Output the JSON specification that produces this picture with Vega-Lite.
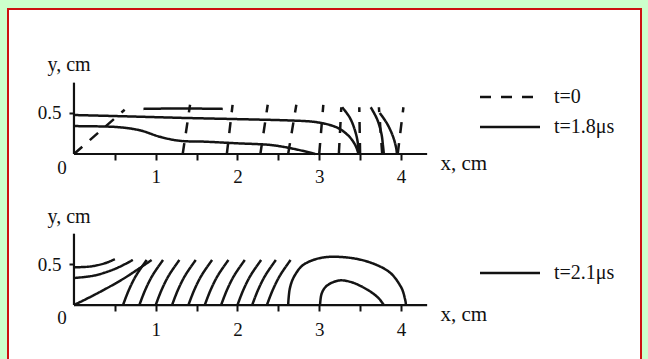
{
  "$schema": "https://vega.github.io/schema/vega-lite/v6.json",
  "width": 648,
  "height": 359,
  "autosize": {"type": "fit", "contains": "padding"},
  "padding": {"left": 8, "top": 9, "right": 7, "bottom": -4},
  "background": "#ccffcc",
  "config": {
    "view": {"fill": "white", "stroke": "#cc1111", "strokeWidth": 2},
    "font": "Liberation Serif"
  },
  "datasets": {
    "top": [
      {"id": "d0", "series": "t=0", "i": 0, "x": 0, "y": 0},
      {"id": "d0", "series": "t=0", "i": 1, "x": 0.62, "y": 0.54},
      {"id": "d1", "series": "t=0", "i": 0, "x": 1.33, "y": 0},
      {"id": "d1", "series": "t=0", "i": 1, "x": 1.42, "y": 0.6},
      {"id": "d2", "series": "t=0", "i": 0, "x": 1.87, "y": 0},
      {"id": "d2", "series": "t=0", "i": 1, "x": 1.94, "y": 0.6},
      {"id": "d3", "series": "t=0", "i": 0, "x": 2.28, "y": 0},
      {"id": "d3", "series": "t=0", "i": 1, "x": 2.37, "y": 0.6},
      {"id": "d4", "series": "t=0", "i": 0, "x": 2.62, "y": 0},
      {"id": "d4", "series": "t=0", "i": 1, "x": 2.72, "y": 0.6},
      {"id": "d5", "series": "t=0", "i": 0, "x": 3.0, "y": 0},
      {"id": "d5", "series": "t=0", "i": 1, "x": 3.05, "y": 0.6},
      {"id": "d6", "series": "t=0", "i": 0, "x": 3.24, "y": 0},
      {"id": "d6", "series": "t=0", "i": 1, "x": 3.27, "y": 0.57},
      {"id": "d7", "series": "t=0", "i": 0, "x": 3.5, "y": 0},
      {"id": "d7", "series": "t=0", "i": 1, "x": 3.49, "y": 0.57},
      {"id": "d8", "series": "t=0", "i": 0, "x": 3.77, "y": 0},
      {"id": "d8", "series": "t=0", "i": 1, "x": 3.73, "y": 0.57},
      {"id": "d9", "series": "t=0", "i": 0, "x": 3.96, "y": 0},
      {"id": "d9", "series": "t=0", "i": 1, "x": 4.03, "y": 0.57},
      {"id": "s1", "series": "t=1.8μs", "i": 0, "x": 0, "y": 0.475},
      {"id": "s1", "series": "t=1.8μs", "i": 1, "x": 0.6, "y": 0.46},
      {"id": "s1", "series": "t=1.8μs", "i": 2, "x": 1.33, "y": 0.44},
      {"id": "s1", "series": "t=1.8μs", "i": 3, "x": 2.0, "y": 0.425},
      {"id": "s1", "series": "t=1.8μs", "i": 4, "x": 2.6, "y": 0.41},
      {"id": "s1", "series": "t=1.8μs", "i": 5, "x": 2.95, "y": 0.39},
      {"id": "s1", "series": "t=1.8μs", "i": 6, "x": 3.2, "y": 0.33},
      {"id": "s1", "series": "t=1.8μs", "i": 7, "x": 3.35, "y": 0.23},
      {"id": "s1", "series": "t=1.8μs", "i": 8, "x": 3.44, "y": 0.11},
      {"id": "s1", "series": "t=1.8μs", "i": 9, "x": 3.48, "y": 0},
      {"id": "s2", "series": "t=1.8μs", "i": 0, "x": 0, "y": 0.34},
      {"id": "s2", "series": "t=1.8μs", "i": 1, "x": 0.5, "y": 0.33},
      {"id": "s2", "series": "t=1.8μs", "i": 2, "x": 0.8, "y": 0.29},
      {"id": "s2", "series": "t=1.8μs", "i": 3, "x": 1.05, "y": 0.21},
      {"id": "s2", "series": "t=1.8μs", "i": 4, "x": 1.3, "y": 0.16},
      {"id": "s2", "series": "t=1.8μs", "i": 5, "x": 1.6, "y": 0.15},
      {"id": "s2", "series": "t=1.8μs", "i": 6, "x": 2.0, "y": 0.13},
      {"id": "s2", "series": "t=1.8μs", "i": 7, "x": 2.4, "y": 0.11},
      {"id": "s2", "series": "t=1.8μs", "i": 8, "x": 2.7, "y": 0.06},
      {"id": "s2", "series": "t=1.8μs", "i": 9, "x": 2.95, "y": 0},
      {"id": "s3", "series": "t=1.8μs", "i": 0, "x": 3.28, "y": 0.57},
      {"id": "s3", "series": "t=1.8μs", "i": 1, "x": 3.37, "y": 0.45},
      {"id": "s3", "series": "t=1.8μs", "i": 2, "x": 3.43, "y": 0.31},
      {"id": "s3", "series": "t=1.8μs", "i": 3, "x": 3.47, "y": 0.15},
      {"id": "s3", "series": "t=1.8μs", "i": 4, "x": 3.48, "y": 0},
      {"id": "s4", "series": "t=1.8μs", "i": 0, "x": 3.63, "y": 0.57},
      {"id": "s4", "series": "t=1.8μs", "i": 1, "x": 3.71, "y": 0.42},
      {"id": "s4", "series": "t=1.8μs", "i": 2, "x": 3.76, "y": 0.25},
      {"id": "s4", "series": "t=1.8μs", "i": 3, "x": 3.78, "y": 0.1},
      {"id": "s4", "series": "t=1.8μs", "i": 4, "x": 3.79, "y": 0},
      {"id": "s5", "series": "t=1.8μs", "i": 0, "x": 3.74, "y": 0.5},
      {"id": "s5", "series": "t=1.8μs", "i": 1, "x": 3.83, "y": 0.37},
      {"id": "s5", "series": "t=1.8μs", "i": 2, "x": 3.9, "y": 0.22},
      {"id": "s5", "series": "t=1.8μs", "i": 3, "x": 3.94, "y": 0.08},
      {"id": "s5", "series": "t=1.8μs", "i": 4, "x": 3.95, "y": 0},
      {"id": "s6", "series": "t=1.8μs", "i": 0, "x": 0.85, "y": 0.55},
      {"id": "s6", "series": "t=1.8μs", "i": 1, "x": 1.3, "y": 0.555},
      {"id": "s6", "series": "t=1.8μs", "i": 2, "x": 1.82, "y": 0.55}
    ],
    "bottom": [
      {"id": "b1", "series": "t=2.1μs", "i": 0, "x": 0, "y": 0.46},
      {"id": "b1", "series": "t=2.1μs", "i": 1, "x": 0.2, "y": 0.47},
      {"id": "b1", "series": "t=2.1μs", "i": 2, "x": 0.38, "y": 0.51},
      {"id": "b1", "series": "t=2.1μs", "i": 3, "x": 0.5, "y": 0.56},
      {"id": "b2", "series": "t=2.1μs", "i": 0, "x": 0, "y": 0.33},
      {"id": "b2", "series": "t=2.1μs", "i": 1, "x": 0.25, "y": 0.36},
      {"id": "b2", "series": "t=2.1μs", "i": 2, "x": 0.5, "y": 0.44},
      {"id": "b2", "series": "t=2.1μs", "i": 3, "x": 0.72, "y": 0.55},
      {"id": "b3", "series": "t=2.1μs", "i": 0, "x": 0, "y": 0},
      {"id": "b3", "series": "t=2.1μs", "i": 1, "x": 0.3, "y": 0.15},
      {"id": "b3", "series": "t=2.1μs", "i": 2, "x": 0.62, "y": 0.33},
      {"id": "b3", "series": "t=2.1μs", "i": 3, "x": 0.95, "y": 0.55},
      {"id": "L01", "series": "t=2.1μs", "i": 0, "x": 0.6, "y": 0},
      {"id": "L01", "series": "t=2.1μs", "i": 1, "x": 0.67, "y": 0.18},
      {"id": "L01", "series": "t=2.1μs", "i": 2, "x": 0.76, "y": 0.36},
      {"id": "L01", "series": "t=2.1μs", "i": 3, "x": 0.89, "y": 0.55},
      {"id": "L02", "series": "t=2.1μs", "i": 0, "x": 0.8, "y": 0},
      {"id": "L02", "series": "t=2.1μs", "i": 1, "x": 0.87, "y": 0.18},
      {"id": "L02", "series": "t=2.1μs", "i": 2, "x": 0.96, "y": 0.36},
      {"id": "L02", "series": "t=2.1μs", "i": 3, "x": 1.09, "y": 0.55},
      {"id": "L03", "series": "t=2.1μs", "i": 0, "x": 1.0, "y": 0},
      {"id": "L03", "series": "t=2.1μs", "i": 1, "x": 1.07, "y": 0.18},
      {"id": "L03", "series": "t=2.1μs", "i": 2, "x": 1.16, "y": 0.36},
      {"id": "L03", "series": "t=2.1μs", "i": 3, "x": 1.29, "y": 0.55},
      {"id": "L04", "series": "t=2.1μs", "i": 0, "x": 1.2, "y": 0},
      {"id": "L04", "series": "t=2.1μs", "i": 1, "x": 1.27, "y": 0.18},
      {"id": "L04", "series": "t=2.1μs", "i": 2, "x": 1.36, "y": 0.36},
      {"id": "L04", "series": "t=2.1μs", "i": 3, "x": 1.49, "y": 0.55},
      {"id": "L05", "series": "t=2.1μs", "i": 0, "x": 1.4, "y": 0},
      {"id": "L05", "series": "t=2.1μs", "i": 1, "x": 1.47, "y": 0.18},
      {"id": "L05", "series": "t=2.1μs", "i": 2, "x": 1.56, "y": 0.36},
      {"id": "L05", "series": "t=2.1μs", "i": 3, "x": 1.69, "y": 0.55},
      {"id": "L06", "series": "t=2.1μs", "i": 0, "x": 1.6, "y": 0},
      {"id": "L06", "series": "t=2.1μs", "i": 1, "x": 1.67, "y": 0.18},
      {"id": "L06", "series": "t=2.1μs", "i": 2, "x": 1.76, "y": 0.36},
      {"id": "L06", "series": "t=2.1μs", "i": 3, "x": 1.89, "y": 0.55},
      {"id": "L07", "series": "t=2.1μs", "i": 0, "x": 1.8, "y": 0},
      {"id": "L07", "series": "t=2.1μs", "i": 1, "x": 1.87, "y": 0.18},
      {"id": "L07", "series": "t=2.1μs", "i": 2, "x": 1.96, "y": 0.36},
      {"id": "L07", "series": "t=2.1μs", "i": 3, "x": 2.09, "y": 0.55},
      {"id": "L08", "series": "t=2.1μs", "i": 0, "x": 2.0, "y": 0},
      {"id": "L08", "series": "t=2.1μs", "i": 1, "x": 2.07, "y": 0.18},
      {"id": "L08", "series": "t=2.1μs", "i": 2, "x": 2.16, "y": 0.36},
      {"id": "L08", "series": "t=2.1μs", "i": 3, "x": 2.29, "y": 0.55},
      {"id": "L09", "series": "t=2.1μs", "i": 0, "x": 2.18, "y": 0},
      {"id": "L09", "series": "t=2.1μs", "i": 1, "x": 2.25, "y": 0.18},
      {"id": "L09", "series": "t=2.1μs", "i": 2, "x": 2.34, "y": 0.36},
      {"id": "L09", "series": "t=2.1μs", "i": 3, "x": 2.47, "y": 0.55},
      {"id": "L10", "series": "t=2.1μs", "i": 0, "x": 2.36, "y": 0},
      {"id": "L10", "series": "t=2.1μs", "i": 1, "x": 2.43, "y": 0.18},
      {"id": "L10", "series": "t=2.1μs", "i": 2, "x": 2.52, "y": 0.36},
      {"id": "L10", "series": "t=2.1μs", "i": 3, "x": 2.65, "y": 0.55},
      {"id": "A1", "series": "t=2.1μs", "i": 0, "x": 2.62, "y": 0},
      {"id": "A1", "series": "t=2.1μs", "i": 1, "x": 2.64, "y": 0.2},
      {"id": "A1", "series": "t=2.1μs", "i": 2, "x": 2.7, "y": 0.36},
      {"id": "A1", "series": "t=2.1μs", "i": 3, "x": 2.82, "y": 0.5},
      {"id": "A1", "series": "t=2.1μs", "i": 4, "x": 3.05, "y": 0.58},
      {"id": "A1", "series": "t=2.1μs", "i": 5, "x": 3.34, "y": 0.58},
      {"id": "A1", "series": "t=2.1μs", "i": 6, "x": 3.62, "y": 0.52},
      {"id": "A1", "series": "t=2.1μs", "i": 7, "x": 3.86, "y": 0.4},
      {"id": "A1", "series": "t=2.1μs", "i": 8, "x": 4.0, "y": 0.22},
      {"id": "A1", "series": "t=2.1μs", "i": 9, "x": 4.05, "y": 0.07},
      {"id": "A1", "series": "t=2.1μs", "i": 10, "x": 4.06, "y": 0},
      {"id": "A2", "series": "t=2.1μs", "i": 0, "x": 3.01, "y": 0},
      {"id": "A2", "series": "t=2.1μs", "i": 1, "x": 3.03, "y": 0.14},
      {"id": "A2", "series": "t=2.1μs", "i": 2, "x": 3.1, "y": 0.24},
      {"id": "A2", "series": "t=2.1μs", "i": 3, "x": 3.25, "y": 0.3},
      {"id": "A2", "series": "t=2.1μs", "i": 4, "x": 3.42, "y": 0.27},
      {"id": "A2", "series": "t=2.1μs", "i": 5, "x": 3.6, "y": 0.18},
      {"id": "A2", "series": "t=2.1μs", "i": 6, "x": 3.72, "y": 0.09},
      {"id": "A2", "series": "t=2.1μs", "i": 7, "x": 3.79, "y": 0}
    ]
  },
  "layer": [
    {
      "layer": [
        {
          "data": {"name": "top"},
          "mark": {"type": "line", "strokeWidth": 2.5, "color": "#141414", "interpolate": "cardinal"},
          "encoding": {
            "x": {
              "field": "x", "type": "quantitative",
              "scale": {"domain": [-0.807, 6.936], "nice": false, "zero": false},
              "axis": {
                "orient": "bottom", "offset": -209, "domain": false, "grid": false,
                "values": [0.5, 1, 1.5, 2, 2.5, 3, 3.5, 4],
                "labelExpr": "datum.value % 1 === 0 ? format(datum.value, 'd') : ''",
                "labelOverlap": false, "tickSize": 6, "tickWidth": 2, "tickColor": "#111",
                "labelFont": "Liberation Serif", "labelFontSize": 19, "labelColor": "#111", "labelPadding": 7,
                "title": "x, cm", "titleFont": "Liberation Serif", "titleFontSize": 21, "titleFontWeight": "normal", "titleColor": "#111",
                "titleX": 432, "titleY": 15, "titleAlign": "left", "titleBaseline": "alphabetic"
              }
            },
            "y": {
              "field": "y", "type": "quantitative",
              "scale": {"domain": [-2.549, 1.768], "nice": false, "zero": false},
              "axis": {
                "orient": "left", "offset": -66, "domain": false, "grid": false,
                "values": [0.5], "tickSize": 5, "tickWidth": 2, "tickColor": "#111",
                "labelFont": "Liberation Serif", "labelFontSize": 19, "labelColor": "#111", "labelPadding": 8,
                "title": "y, cm", "titleFont": "Liberation Serif", "titleFontSize": 20, "titleFontWeight": "normal", "titleColor": "#111",
                "titleAngle": 0, "titleX": -27, "titleY": 61, "titleAlign": "left", "titleBaseline": "alphabetic"
              }
            },
            "strokeDash": {
              "field": "series", "type": "nominal",
              "scale": {"domain": ["t=0", "t=1.8μs"], "range": [[11, 10], [1, 0]]},
              "legend": {
                "orient": "none", "legendX": 490.5, "legendY": 76.5, "title": null,
                "symbolType": "M-3,0H3", "symbolSize": 400, "symbolStrokeWidth": 2.5, "symbolStrokeColor": "#111",
                "labelFont": "Liberation Serif", "labelFontSize": 20, "labelColor": "#111", "labelOffset": 32.5, "rowPadding": 8
              }
            },
            "detail": {"field": "id"},
            "order": {"field": "i", "type": "quantitative"}
          }
        },
        {
          "data": {"values": [{}]},
          "mark": {"type": "rule", "strokeWidth": 2.2, "color": "#111"},
          "encoding": {
            "x": {"datum": 0, "type": "quantitative"},
            "x2": {"datum": 4.32},
            "y": {"datum": 0, "type": "quantitative"}
          }
        },
        {
          "data": {"values": [{}]},
          "mark": {"type": "rule", "strokeWidth": 2.2, "color": "#111"},
          "encoding": {
            "x": {"datum": 0, "type": "quantitative"},
            "y": {"datum": 0, "type": "quantitative"},
            "y2": {"datum": 0.87}
          }
        },
        {
          "data": {"values": [{}]},
          "mark": {"type": "text", "text": "0", "dx": -12, "dy": 14, "font": "Liberation Serif", "fontSize": 19, "color": "#111", "baseline": "middle"},
          "encoding": {
            "x": {"datum": 0, "type": "quantitative"},
            "y": {"datum": 0, "type": "quantitative"}
          }
        }
      ]
    },
    {
      "layer": [
        {
          "data": {"name": "bottom"},
          "mark": {"type": "line", "strokeWidth": 2.5, "color": "#141414", "interpolate": "cardinal"},
          "encoding": {
            "x": {
              "field": "x", "type": "quantitative",
              "scale": {"domain": [-0.807, 6.936], "nice": false, "zero": false},
              "axis": {
                "orient": "bottom", "offset": -58, "domain": false, "grid": false,
                "values": [0.5, 1, 1.5, 2, 2.5, 3, 3.5, 4],
                "labelExpr": "datum.value % 1 === 0 ? format(datum.value, 'd') : ''",
                "labelOverlap": false, "tickSize": 6, "tickWidth": 2, "tickColor": "#111",
                "labelFont": "Liberation Serif", "labelFontSize": 19, "labelColor": "#111", "labelPadding": 9,
                "title": "x, cm", "titleFont": "Liberation Serif", "titleFontSize": 21, "titleFontWeight": "normal", "titleColor": "#111",
                "titleX": 432, "titleY": 15, "titleAlign": "left", "titleBaseline": "alphabetic"
              }
            },
            "y": {
              "field": "y", "type": "quantitative",
              "scale": {"domain": [-0.707, 3.61], "nice": false, "zero": false},
              "axis": {
                "orient": "left", "offset": -66, "domain": false, "grid": false,
                "values": [0.5], "tickSize": 5, "tickWidth": 2, "tickColor": "#111",
                "labelFont": "Liberation Serif", "labelFontSize": 19, "labelColor": "#111", "labelPadding": 8,
                "title": "y, cm", "titleFont": "Liberation Serif", "titleFontSize": 20, "titleFontWeight": "normal", "titleColor": "#111",
                "titleAngle": 0, "titleX": -27, "titleY": 213, "titleAlign": "left", "titleBaseline": "alphabetic"
              }
            },
            "strokeDash": {
              "field": "series", "type": "nominal",
              "scale": {"domain": ["t=2.1μs"], "range": [[1, 0]]},
              "legend": {
                "orient": "none", "legendX": 490.5, "legendY": 252.5, "title": null,
                "symbolType": "M-3,0H3", "symbolSize": 400, "symbolStrokeWidth": 2.5, "symbolStrokeColor": "#111",
                "labelFont": "Liberation Serif", "labelFontSize": 20, "labelColor": "#111", "labelOffset": 32.5
              }
            },
            "detail": {"field": "id"},
            "order": {"field": "i", "type": "quantitative"}
          }
        },
        {
          "data": {"values": [{}]},
          "mark": {"type": "rule", "strokeWidth": 2.2, "color": "#111"},
          "encoding": {
            "x": {"datum": 0, "type": "quantitative"},
            "x2": {"datum": 4.32},
            "y": {"datum": 0, "type": "quantitative"}
          }
        },
        {
          "data": {"values": [{}]},
          "mark": {"type": "rule", "strokeWidth": 2.2, "color": "#111"},
          "encoding": {
            "x": {"datum": 0, "type": "quantitative"},
            "y": {"datum": 0, "type": "quantitative"},
            "y2": {"datum": 0.87}
          }
        },
        {
          "data": {"values": [{}]},
          "mark": {"type": "text", "text": "0", "dx": -12, "dy": 13, "font": "Liberation Serif", "fontSize": 19, "color": "#111", "baseline": "middle"},
          "encoding": {
            "x": {"datum": 0, "type": "quantitative"},
            "y": {"datum": 0, "type": "quantitative"}
          }
        }
      ]
    }
  ],
  "resolve": {
    "scale": {"y": "independent", "strokeDash": "independent"},
    "axis": {"x": "independent"}
  }
}
